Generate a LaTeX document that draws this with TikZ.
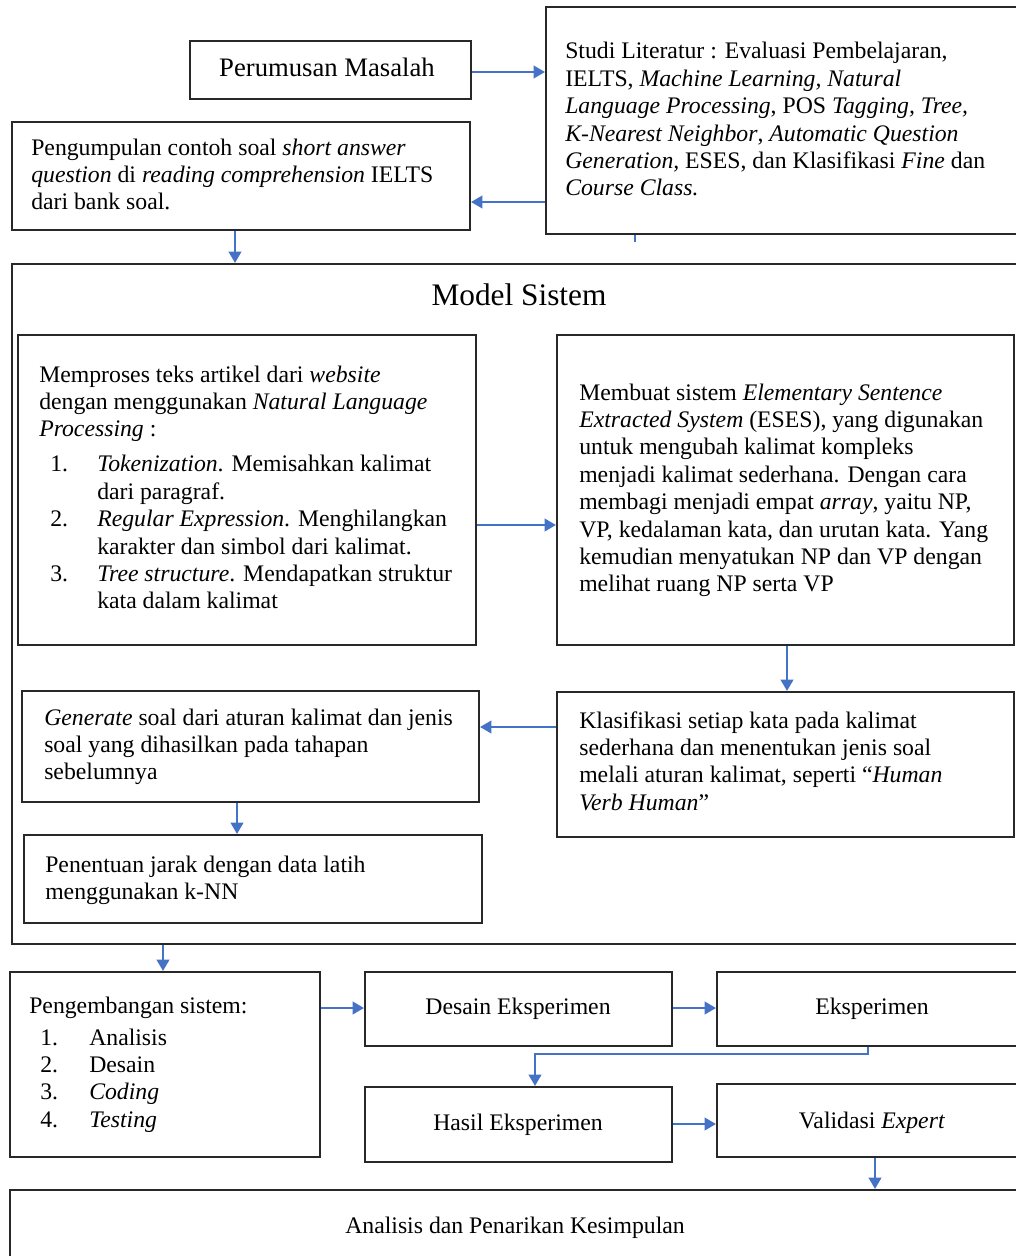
\documentclass[tikz,border=0pt]{standalone}
\usepackage{fontspec}
\setmainfont{Liberation Serif}
\usetikzlibrary{arrows.meta,fit}
\definecolor{arrblue}{RGB}{68,114,196}
\definecolor{boxline}{RGB}{40,40,40}
\newcommand\lns[1]{\vtop{\baselineskip=20.55pt\lineskip=0pt\lineskiplimit=-100pt\halign{##\hfil\cr#1\crcr}}}
\newcommand\nitem[3]{\hskip #1\makebox[#2][l]{#3}}
\tikzset{
  box/.style={draw=boxline, line width=1.6pt, fill=white, inner sep=0pt, rectangle},
  txt/.style={inner sep=0pt, anchor=base west, font=\fontsize{17.8pt}{20.55pt}\selectfont},
  ctxt/.style={inner sep=0pt, anchor=base, font=\fontsize{17.8pt}{20.55pt}\selectfont},
  arr/.style={draw=arrblue, line width=1.5pt, -{Triangle[length=8.5pt,width=9.5pt]}},
  conn/.style={draw=arrblue, line width=1.5pt},
}
\begin{document}
\begin{tikzpicture}[x=0.75pt,y=-0.75pt]
\useasboundingbox (0,0) rectangle (1016,1256);
\clip (0,0) rectangle (1016,1256);
\fill[white] (0,0) rectangle (1016,1256);

% top row
\node[box, fit={(190,41) (471,99)}] (pm) {};
\node[ctxt, font=\fontsize{20pt}{23pt}\selectfont] (pmt) at (327,77) {Perumusan Masalah};
\node[box, fit={(546,7) (1040,234)}] (sl) {};
\node[txt] (slt) at (565,59) {\lns{Studi Literatur : Evaluasi Pembelajaran,\cr
IELTS, \textit{Machine Learning, Natural}\cr
\textit{Language Processing}, POS \textit{Tagging, Tree,}\cr
\textit{K-Nearest Neighbor}, \textit{Automatic Question}\cr
\textit{Generation,} ESES, dan Klasifikasi \textit{Fine} dan\cr
\textit{Course Class.}}};
\node[box, fit={(12,122) (470,230)}] (pg) {};
\node[txt] (pgt) at (31,155) {\lns{Pengumpulan contoh soal \textit{short answer}\cr
\textit{question} di \textit{reading comprehension} IELTS\cr
dari bank soal.}};

% model sistem
\node[box, fit={(12,264) (1040,944)}] (ms) {};
\node[inner sep=0pt, anchor=base, font=\fontsize{23.5pt}{27pt}\selectfont] (mst) at (519,305) {Model Sistem};
\node[box, fit={(18,335) (476,645)}] (b1) {};
\node[txt] (b1t) at (39,382) {\lns{Memproses teks artikel dari \textit{website}\cr
dengan menggunakan \textit{Natural Language}\cr
\textit{Processing} :\cr
\noalign{\vskip5.7pt}
\nitem{8.25pt}{35.25pt}{1.}\textit{Tokenization}. Memisahkan kalimat\cr
\hskip43.5pt dari paragraf.\cr
\nitem{8.25pt}{35.25pt}{2.}\textit{Regular Expression}. Menghilangkan\cr
\hskip43.5pt karakter dan simbol dari kalimat.\cr
\nitem{8.25pt}{35.25pt}{3.}\textit{Tree structure}. Mendapatkan struktur\cr
\hskip43.5pt kata dalam kalimat}};
\node[box, fit={(557,335) (1014,645)}] (b2) {};
\node[txt] (b2t) at (579,400) {\lns{Membuat sistem \textit{Elementary Sentence}\cr
\textit{Extracted System} (ESES), yang digunakan\cr
untuk mengubah kalimat kompleks\cr
menjadi kalimat sederhana. Dengan cara\cr
membagi menjadi empat \textit{array}, yaitu NP,\cr
VP, kedalaman kata, dan urutan kata. Yang\cr
kemudian menyatukan NP dan VP dengan\cr
melihat ruang NP serta VP}};
\node[box, fit={(557,692) (1014,837)}] (kl) {};
\node[txt] (klt) at (579,728) {\lns{Klasifikasi setiap kata pada kalimat\cr
sederhana dan menentukan jenis soal\cr
melali aturan kalimat, seperti ``\textit{Human}\cr
\textit{Verb Human}''}};
\node[box, fit={(22,691) (479,802)}] (gn) {};
\node[txt] (gnt) at (44,725) {\lns{\textit{Generate} soal dari aturan kalimat dan jenis\cr
soal yang dihasilkan pada tahapan\cr
sebelumnya}};
\node[box, fit={(24,835) (482,923)}] (pn) {};
\node[txt] (pnt) at (45,872) {\lns{Penentuan jarak dengan data latih\cr
menggunakan k-NN}};

% bottom
\node[box, fit={(10,972) (320,1157)}] (pe) {};
\node[txt] (pet) at (29,1013) {\lns{Pengembangan sistem:\cr
\noalign{\vskip3.5pt}
\nitem{8.25pt}{36.75pt}{1.}Analisis\cr
\nitem{8.25pt}{36.75pt}{2.}Desain\cr
\nitem{8.25pt}{36.75pt}{3.}\textit{Coding}\cr
\nitem{8.25pt}{36.75pt}{4.}\textit{Testing}}};
\node[box, fit={(365,972) (672,1046)}] (de) {};
\node[ctxt] (det) at (518,1014) {Desain Eksperimen};
\node[box, fit={(717,972) (1027,1046)}] (ek) {};
\node[ctxt] (ekt) at (872,1014) {Eksperimen};
\node[box, fit={(365,1087) (672,1162)}] (ha) {};
\node[ctxt] (hat) at (518,1130) {Hasil Eksperimen};
\node[box, fit={(717,1084) (1027,1157)}] (va) {};
\node[ctxt] (vat) at (872,1128) {Validasi \textit{Expert}};
\node[box, fit={(10,1190) (1022,1290)}] (an) {};
\node[ctxt] (ant) at (515,1233) {Analisis dan Penarikan Kesimpulan};

% lanes
\coordinate (y72) at (0,72);
\coordinate (y202) at (0,202);
\coordinate (x635) at (635,242);
\coordinate (x235) at (235,0);
\coordinate (y525) at (0,525);
\coordinate (x787) at (787,0);
\coordinate (y727) at (0,727);
\coordinate (x237) at (237,0);
\coordinate (x163) at (163,0);
\coordinate (y1008) at (0,1008);
\coordinate (x868) at (868,0);
\coordinate (y1054) at (0,1054);
\coordinate (x535) at (535,0);
\coordinate (y1124) at (0,1124);
\coordinate (x875) at (875,0);

% connectors
\draw[arr] (pm.east |- y72) -- (sl.west |- y72);
\draw[arr] (sl.west |- y202) -- (pg.east |- y202);
\draw[conn] (x635 |- sl.south) -- (x635);
\draw[arr] (x235 |- pg.south) -- (x235 |- ms.north);
\draw[arr] (b1.east |- y525) -- (b2.west |- y525);
\draw[arr] (x787 |- b2.south) -- (x787 |- kl.north);
\draw[arr] (kl.west |- y727) -- (gn.east |- y727);
\draw[arr] (x237 |- gn.south) -- (x237 |- pn.north);
\draw[arr] (x163 |- ms.south) -- (x163 |- pe.north);
\draw[arr] (pe.east |- y1008) -- (de.west |- y1008);
\draw[arr] (de.east |- y1008) -- (ek.west |- y1008);
\draw[arr] (x868 |- ek.south) -- (x868 |- y1054) -- (x535 |- y1054) -- (x535 |- ha.north);
\draw[arr] (ha.east |- y1124) -- (va.west |- y1124);
\draw[arr] (x875 |- va.south) -- (x875 |- an.north);
\end{tikzpicture}
\end{document}
